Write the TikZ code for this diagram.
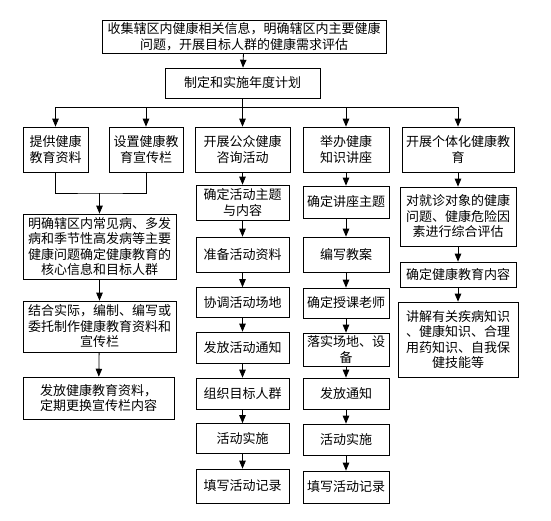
\documentclass[tikz,border=0pt]{standalone}
\usepackage{fontspec}
\newfontfamily\cjk{Noto Sans CJK SC}
\usepackage{tikz}
\usetikzlibrary{arrows}
\usepackage{xcolor}

\begin{document}
\begin{tikzpicture}[x=1pt,y=-1pt,thick,>=triangle 45]

\tikzstyle{box}=[draw,align=center,inner sep=0pt,font=\cjk\fontsize{13}{15.5}\selectfont]

\useasboundingbox (0,0) rectangle (551,521);

% top of the plan
\node[box,minimum width=284,minimum height=33] (info) at (244,36.5)
  {收集辖区内健康相关信息，明确辖区内主要健康\\问题，开展目标人群的健康需求评估};
\node[box,minimum width=155,minimum height=30] (plan) at (242.5,83) {制定和实施年度计划};

% five branches
\node[box,minimum width=65,minimum height=45] (mat) at (55.5,149.5) {提供健康\\教育资料};
\node[box,minimum width=74,minimum height=45] (bord) at (146,149.5) {设置健康教\\育宣传栏};
\node[box,minimum width=95,minimum height=45] (cons) at (242.5,149.5) {开展公众健康\\咨询活动};
\node[box,minimum width=86,minimum height=45] (lect) at (346,149.5) {举办健康\\知识讲座};
\node[box,minimum width=112,minimum height=45] (indiv) at (458,149.5) {开展个体化健康教\\育};

% materials and boards
\node[box,minimum width=153,minimum height=65] (m1) at (99.5,246.5)
  {明确辖区内常见病、多发\\病和季节性高发病等主要\\健康问题确定健康教育的\\核心信息和目标人群};
\node[box,minimum width=153,minimum height=51] (m2) at (99.5,326.5)
  {结合实际，编制、编写或\\委托制作健康教育资料和\\宣传栏};
\node[box,minimum width=151,minimum height=42] (m3) at (98.5,398)
  {发放健康教育资料，\\定期更换宣传栏内容};

% consultation
\node[box,minimum width=93,minimum height=35] (c1) at (242.5,202.5) {确定活动主题\\与内容};
\node[box,minimum width=93,minimum height=35] (c2) at (242.5,254.5) {准备活动资料};
\node[box,minimum width=93,minimum height=30] (c3) at (242.5,302.5) {协调活动场地};
\node[box,minimum width=93,minimum height=31] (c4) at (242.5,347.5) {发放活动通知};
\node[box,minimum width=93,minimum height=31] (c5) at (242.5,393.5) {组织目标人群};
\node[box,minimum width=93,minimum height=30] (c6) at (242.5,438.5) {活动实施};
\node[box,minimum width=93,minimum height=34] (c7) at (242.5,486) {填写活动记录};

% lectures
\node[box,minimum width=86,minimum height=32] (l1) at (346,202) {确定讲座主题};
\node[box,minimum width=86,minimum height=35] (l2) at (346,254.5) {编写教案};
\node[box,minimum width=86,minimum height=30] (l3) at (346,303) {确定授课老师};
\node[box,minimum width=86,minimum height=33] (l4) at (346,349.5) {落实场地、设\\备};
\node[box,minimum width=86,minimum height=31] (l5) at (346,393.5) {发放通知};
\node[box,minimum width=86,minimum height=31] (l6) at (346,439.5) {活动实施};
\node[box,minimum width=86,minimum height=32] (l7) at (346,487) {填写活动记录};

% individual education
\node[box,minimum width=116,minimum height=59] (i1) at (458,216.5)
  {对就诊对象的健康\\问题、健康危险因\\素进行综合评估};
\node[box,minimum width=116,minimum height=25] (i2) at (458,274.5) {确定健康教育内容};
\node[box,minimum width=120,minimum height=75] (i3) at (458,339.5)
  {讲解有关疾病知识\\、健康知识、合理\\用药知识、自我保\\健技能等};

\coordinate (bus) at (0,107);
\coordinate (join) at (99.5,193);

\draw[->] (info) -- (plan);
\foreach \b in {mat,bord,cons,lect,indiv}
  \draw[->] (plan.south) -- (plan.south |- bus) -| (\b.north);

\draw (mat.south) |- (join) -| (bord.south);
\draw[->] (join) -- (m1);

\foreach \u/\v in {m1/m2,m2/m3,cons/c1,c1/c2,c2/c3,c3/c4,c4/c5,c5/c6,c6/c7,
  lect/l1,l1/l2,l2/l3,l3/l4,l4/l5,l5/l6,l6/l7,indiv/i1,i1/i2,i2/i3}
  \draw[->] (\u) -- (\v);
\end{tikzpicture}
\end{document}
